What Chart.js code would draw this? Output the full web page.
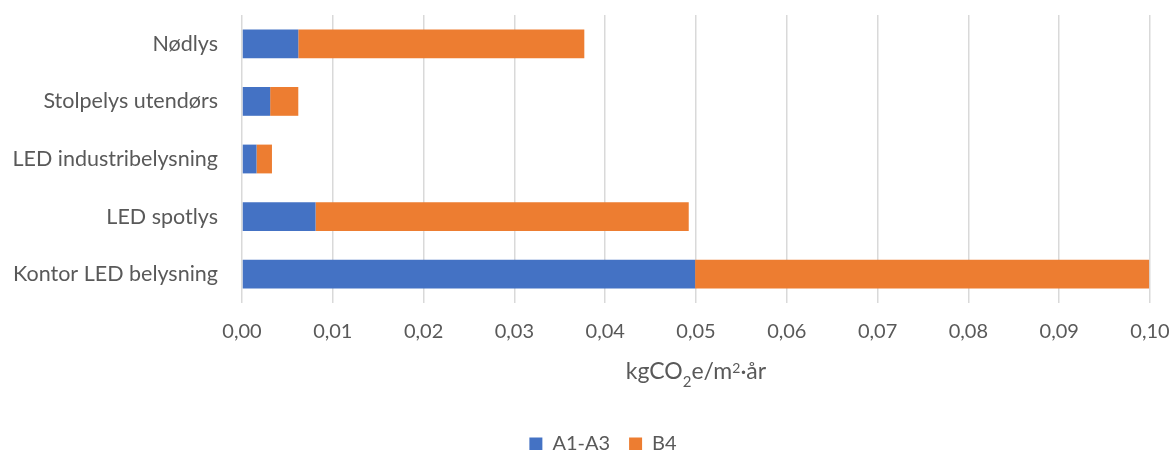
<!DOCTYPE html>
<html>
<head>
<meta charset="utf-8">
<script src="https://cdn.jsdelivr.net/npm/chart.js@4"></script>
<style>
  html, body { margin: 0; padding: 0; background: #fff; }
  #wrap { width: 1176px; height: 450px; }
</style>
</head>
<body>
<div id="wrap"><canvas id="c" width="1176" height="450"></canvas></div>
<script>
const categories = ["Nødlys", "Stolpelys utendørs", "LED industribelysning", "LED spotlys", "Kontor LED belysning"];
const seriesA1A3 = [0.0062, 0.0031, 0.0016, 0.0081, 0.0499];
const seriesB4 = [0.0315, 0.0031, 0.0017, 0.0411, 0.0500];
const xTicks = [0, 0.01, 0.02, 0.03, 0.04, 0.05, 0.06, 0.07, 0.08, 0.09, 0.10];
// axis title "kgCO₂e/m²·år" split into text runs: [text, kind]
const axisTitleParts = [["kgCO", "n"], ["2", "sub"], ["e/m", "n"], ["2", "sup"], ["·år", "n"]];

const FONT = "Lato, 'Open Sans', sans-serif";
const TEXT = "#595959";

const axisTitlePlugin = {
  id: 'axisTitleRich',
  afterLayout(chart) {
    // Excel centres the legend slightly right of the canvas centre
    if (chart.legend) { chart.legend.left += 56; }
  },
  afterDraw(chart) {
    const ctx = chart.ctx;
    const area = chart.chartArea;
    const fonts = { n: "23px " + FONT, sub: "15px " + FONT, sup: "14px " + FONT };
    const shift = { n: 0, sub: 8, sup: -6 };
    ctx.save();
    let total = 0;
    const widths = axisTitleParts.map(([t, k]) => { ctx.font = fonts[k]; const w = ctx.measureText(t).width; total += w; return w; });
    let x = (area.left + area.right) / 2 - total / 2;
    const base = area.bottom + 76;
    ctx.fillStyle = TEXT;
    ctx.textBaseline = 'alphabetic';
    ctx.textAlign = 'left';
    axisTitleParts.forEach(([t, k], i) => {
      ctx.font = fonts[k];
      ctx.fillText(t, x, base + shift[k]);
      x += widths[i];
    });
    ctx.restore();
  }
};

new Chart(document.getElementById('c'), {
  type: 'bar',
  data: {
    labels: categories,
    datasets: [
      { label: 'A1-A3', data: seriesA1A3, backgroundColor: '#4472C4', borderWidth: 0 },
      { label: 'B4', data: seriesB4, backgroundColor: '#ED7D31', borderWidth: 0 }
    ]
  },
  plugins: [axisTitlePlugin],
  options: {
    indexAxis: 'y',
    responsive: false,
    animation: false,
    layout: { padding: { top: 15, right: 26, left: 0, bottom: -14 } },
    datasets: { bar: { categoryPercentage: 0.5, barPercentage: 1.0 } },
    scales: {
      x: {
        stacked: true,
        min: 0, max: 0.1,
        afterBuildTicks: (s) => { s.ticks = xTicks.map(v => ({ value: v })); },
        afterFit: (s) => { s.height = 112; s.paddingLeft = 0; s.paddingRight = 0; },
        grid: { color: '#d9d9d9', lineWidth: 1.5, drawTicks: false },
        border: { display: false },
        ticks: {
          padding: 17,
          color: TEXT,
          font: { family: FONT, size: 20 },
          callback: (v) => Number(v).toFixed(2).replace('.', ',')
        }
      },
      y: {
        stacked: true,
        afterFit: (s) => { s.width = 242; s.paddingTop = 0; s.paddingBottom = 0; },
        grid: { display: false },
        border: { display: false },
        ticks: {
          padding: 16,
          color: TEXT,
          font: { family: FONT, size: 21.5 }
        }
      }
    },
    plugins: {
      tooltip: { enabled: false },
      legend: {
        position: 'bottom',
        labels: {
          boxWidth: 13, boxHeight: 13, padding: 19,
          color: TEXT,
          font: { family: FONT, size: 20 }
        }
      }
    }
  }
});
</script>
</body>
</html>
